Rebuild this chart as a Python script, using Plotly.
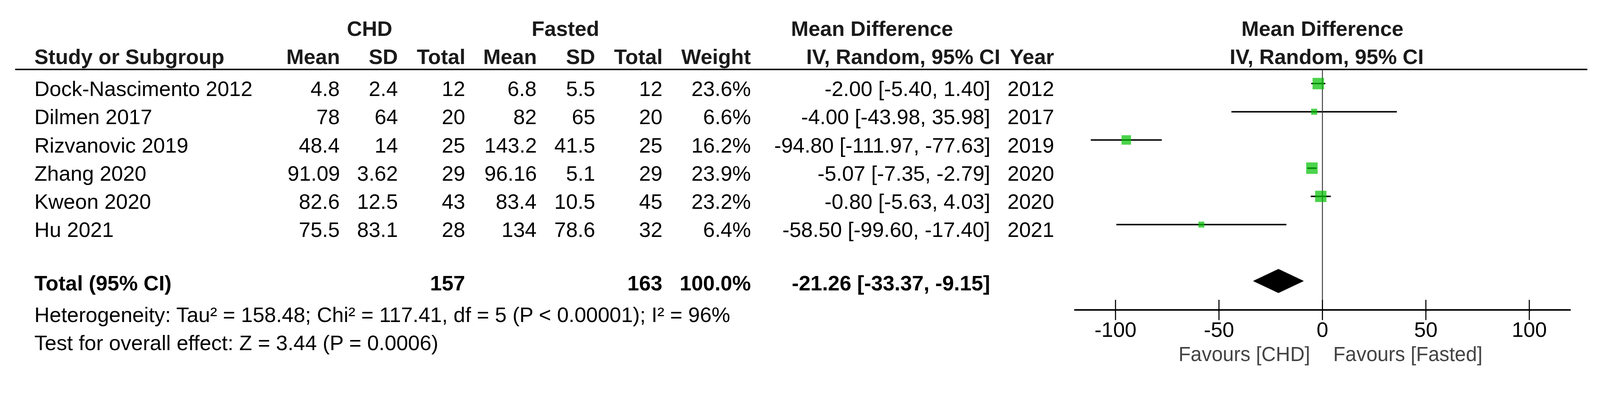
import math
import plotly.graph_objects as go

# ---------------- data ----------------
studies = ["Dock-Nascimento 2012", "Dilmen 2017", "Rizvanovic 2019",
           "Zhang 2020", "Kweon 2020", "Hu 2021"]
chd_mean = [4.8, 78, 48.4, 91.09, 82.6, 75.5]
chd_sd = [2.4, 64, 14, 3.62, 12.5, 83.1]
chd_total = [12, 20, 25, 29, 43, 28]
fasted_mean = [6.8, 82, 143.2, 96.16, 83.4, 134]
fasted_sd = [5.5, 65, 41.5, 5.1, 10.5, 78.6]
fasted_total = [12, 20, 25, 29, 45, 32]
weights = [23.6, 6.6, 16.2, 23.9, 23.2, 6.4]
md = [-2.00, -4.00, -94.80, -5.07, -0.80, -58.50]
ci_low = [-5.40, -43.98, -111.97, -7.35, -5.63, -99.60]
ci_high = [1.40, 35.98, -77.63, -2.79, 4.03, -17.40]
years = [2012, 2017, 2019, 2020, 2020, 2021]

total_chd = 157
total_fasted = 163
total_weight = 100.0
pooled_md = -21.26
pooled_low = -33.37
pooled_high = -9.15

x_tick_vals = [-100, -50, 0, 50, 100]
heterogeneity_text = "Heterogeneity: Tau² = 158.48; Chi² = 117.41, df = 5 (P < 0.00001); I² = 96%"
overall_text = "Test for overall effect: Z = 3.44 (P = 0.0006)"

# ---------------- layout helpers ----------------
# positions below are given in screenshot pixels (4421 x 1035);
# the page is rendered at a 4096-wide viewport and scaled, with 8px body margin
K = 4421 / 4096
OFF = 8
FW, FH = 4080, 943
FONT = "Liberation Sans, Arial, Helvetica, sans-serif"
FS = 58 / K
ROW0_PX, ROW_STEP = 231, 78


def prow(px):
    """screenshot pixel y -> row units"""
    return (px - ROW0_PX) / ROW_STEP


def fx(px):
    """screenshot pixel x -> paper x"""
    return (px / K - OFF) / FW


def fy(py):
    """screenshot pixel y -> paper y"""
    return 1 - (py / K - OFF) / FH


rows = list(range(len(studies)))
total_row = 7
axis_row = prow(857)
header_row = prow(192)
y_top = prow((0 + OFF) * K)
y_bot = prow((FH + OFF) * K)

fig = go.Figure()

# CI lines
xs, ys = [], []
for lo, hi, r in zip(ci_low, ci_high, rows):
    xs += [lo, hi, None]
    ys += [r, r, None]
fig.add_trace(go.Scatter(x=xs, y=ys, mode="lines",
                         line=dict(color="black", width=4 / K), hoverinfo="skip"))

# zero line
fig.add_trace(go.Scatter(x=[0, 0], y=[header_row, axis_row], mode="lines",
                         line=dict(color="#333333", width=2.5 / K), hoverinfo="skip"))

# squares
fig.add_trace(go.Scatter(x=md, y=rows, mode="markers",
                         marker=dict(symbol="square", color="#00c000",
                                     size=[6.5 * math.sqrt(w) / K for w in weights],
                                     line=dict(width=0)),
                         hoverinfo="skip"))

# diamond
h = 0.42
fig.add_trace(go.Scatter(x=[pooled_low, pooled_md, pooled_high, pooled_md, pooled_low],
                         y=[total_row, total_row - h, total_row, total_row + h, total_row],
                         mode="lines", fill="toself", fillcolor="black",
                         line=dict(color="black", width=1), hoverinfo="skip"))

# tick marks crossing the axis
fig.add_trace(go.Scatter(x=x_tick_vals, y=[axis_row] * len(x_tick_vals), mode="markers",
                         marker=dict(symbol="line-ns", size=40 / K,
                                     line=dict(color="black", width=3 / K)),
                         cliponaxis=False, hoverinfo="skip"))

fig.update_layout(
    width=FW, height=FH, margin=dict(l=0, r=0, t=0, b=0),
    plot_bgcolor="white", paper_bgcolor="white", showlegend=False,
    xaxis=dict(domain=[fx(2968), fx(4340)], range=[-120, 120],
               anchor="free", position=fy(857),
               showline=True, linewidth=4 / K, linecolor="black",
               ticks="outside", ticklen=3, tickwidth=3 / K, tickcolor="black",
               tickvals=x_tick_vals, ticktext=[str(v) for v in x_tick_vals],
               tickfont=dict(family=FONT, size=FS, color="black"),
               showgrid=False, zeroline=False),
    yaxis=dict(domain=[0, 1], range=[y_bot, y_top], visible=False,
               showgrid=False, zeroline=False),
)

# header rule
fig.add_shape(type="line", xref="paper", x0=fx(42), x1=fx(4386),
              yref="y", y0=header_row, y1=header_row,
              line=dict(color="black", width=4 / K))


def txt(s, x_px, y_row, anchor="right", bold=False, size=FS, color="black"):
    if bold:
        s = "<b>" + s + "</b>"
    fig.add_annotation(text=s, x=fx(x_px), xref="paper", y=y_row, yref="y",
                       xanchor=anchor, yanchor="middle", showarrow=False,
                       font=dict(family=FONT, size=size, color=color))


# column right edges (screenshot px)
C_MEAN1, C_SD1, C_TOT1 = 941, 1102, 1288
C_MEAN2, C_SD2, C_TOT2 = 1485, 1647, 1833
C_W, C_CI, C_YEAR = 2077, 2738, 2915
X_NAME = 93
HC = "#1a1a1a"

# header row 1
r1 = prow(79)
txt("CHD", 1021, r1, "center", True, color=HC)
txt("Fasted", 1562, r1, "center", True, color=HC)
txt("Mean Difference", 2410, r1, "center", True, color=HC)
txt("Mean Difference", 3654, r1, "center", True, color=HC)

# header row 2
r2 = prow(157)
txt("Study or Subgroup", X_NAME, r2, "left", True, color=HC)
for label, xp in [("Mean", C_MEAN1), ("SD", C_SD1), ("Total", C_TOT1),
                  ("Mean", C_MEAN2), ("SD", C_SD2), ("Total", C_TOT2),
                  ("Weight", C_W), ("IV, Random, 95% CI", 2766), ("Year", C_YEAR)]:
    txt(label, xp, r2, "right", True, color=HC)
txt("IV, Random, 95% CI", 3666, r2, "center", True, color=HC)

# study rows
dy = 14 / ROW_STEP
for i, r in enumerate(rows):
    y = r + dy
    txt(studies[i], X_NAME, y, "left")
    txt(f"{chd_mean[i]:g}", C_MEAN1, y)
    txt(f"{chd_sd[i]:g}", C_SD1, y)
    txt(str(chd_total[i]), C_TOT1, y)
    txt(f"{fasted_mean[i]:g}", C_MEAN2, y)
    txt(f"{fasted_sd[i]:g}", C_SD2, y)
    txt(str(fasted_total[i]), C_TOT2, y)
    txt(f"{weights[i]:.1f}%", C_W, y)
    txt(f"{md[i]:.2f} [{ci_low[i]:.2f}, {ci_high[i]:.2f}]", C_CI, y)
    txt(str(years[i]), C_YEAR, y)

# total row
rt = prow(782)
txt("Total (95% CI)", X_NAME, rt, "left", True)
txt(str(total_chd), C_TOT1, rt, "right", True)
txt(str(total_fasted), C_TOT2, rt, "right", True)
txt(f"{total_weight:.1f}%", C_W, rt, "right", True)
txt(f"{pooled_md:.2f} [{pooled_low:.2f}, {pooled_high:.2f}]", C_CI, rt, "right", True)

# footnotes
txt(heterogeneity_text, X_NAME, prow(870), "left")
txt(overall_text, X_NAME, prow(948), "left")

# favours labels
txt("Favours [CHD]", 3622, prow(979), "right", size=55 / K, color="#444444")
txt("Favours [Fasted]", 3682, prow(979), "left", size=55 / K, color="#444444")

fig.write_html("out.html")
